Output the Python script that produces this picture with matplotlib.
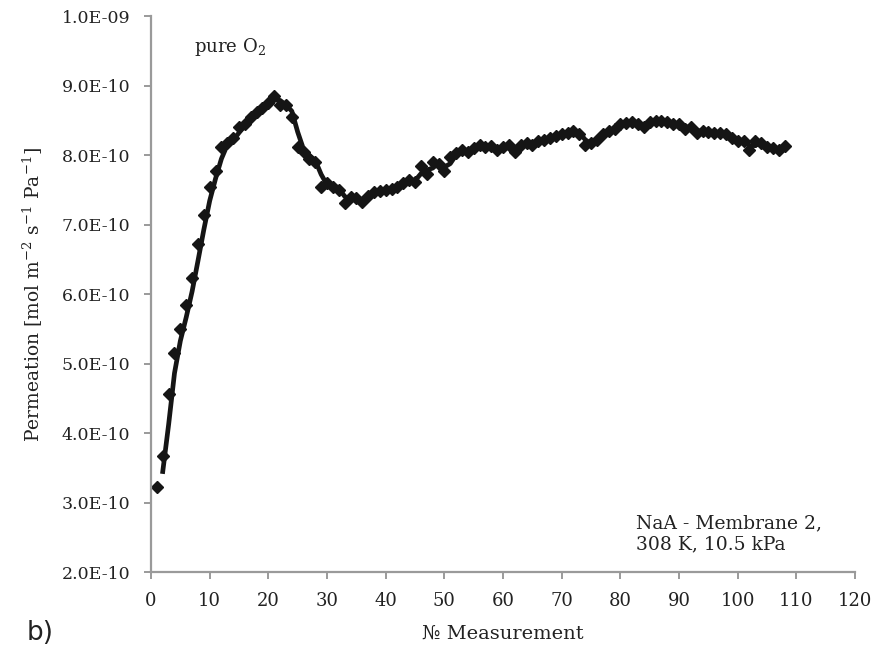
import numpy as np
import pandas as pd
import matplotlib
matplotlib.use("Agg")
import matplotlib.pyplot as plt

# permeation values, units of 1e-10 mol m-2 s-1 Pa-1, one per measurement
perm = [3.22, 3.68, 4.57, 5.16, 5.50, 5.84, 6.24, 6.72, 7.14, 7.55,
        7.78, 8.12, 8.18, 8.25, 8.40, 8.45, 8.55, 8.63, 8.68, 8.75,
        8.85, 8.73, 8.72, 8.55, 8.12, 8.05, 7.95, 7.90, 7.55, 7.60,
        7.55, 7.50, 7.32, 7.40, 7.38, 7.33, 7.42, 7.47, 7.48, 7.50,
        7.52, 7.55, 7.60, 7.65, 7.62, 7.85, 7.73, 7.90, 7.88, 7.78,
        7.98, 8.03, 8.08, 8.05, 8.10, 8.15, 8.12, 8.13, 8.08, 8.12,
        8.15, 8.05, 8.15, 8.18, 8.15, 8.20, 8.22, 8.25, 8.28, 8.30,
        8.32, 8.35, 8.30, 8.15, 8.18, 8.22, 8.30, 8.35, 8.38, 8.45,
        8.47, 8.48, 8.45, 8.40, 8.48, 8.50, 8.50, 8.48, 8.45, 8.45,
        8.38, 8.40, 8.32, 8.35, 8.33, 8.32, 8.32, 8.30, 8.25, 8.20,
        8.20, 8.08, 8.20, 8.17, 8.12, 8.10, 8.08, 8.13]
measurement = list(range(1, len(perm) + 1))

x_ticks = list(range(0, 121, 10))
y_ticks = [2e-10, 3e-10, 4e-10, 5e-10, 6e-10, 7e-10, 8e-10, 9e-10, 1e-9]
y_labels = ["2.0E-10", "3.0E-10", "4.0E-10", "5.0E-10", "6.0E-10",
            "7.0E-10", "8.0E-10", "9.0E-10", "1.0E-09"]

plt.rcParams['font.family'] = ['DejaVu Serif']
plt.rcParams['mathtext.fontset'] = 'dejavuserif'

df = pd.DataFrame({'x': measurement, 'p': np.array(perm) * 1e-10})
# 2-point moving average trendline
df['ma'] = df['p'].rolling(2).mean()

fig = plt.figure(figsize=(8.77, 6.68), dpi=100)
ax = fig.add_axes([0.1722, 0.1433, 0.8028, 0.8323])

ax.plot(df['x'], df['p'], linestyle='none', marker='D', markersize=6.6,
        color='#151515', zorder=2)
ax.plot(df['x'], df['ma'], color='#151515', linewidth=3.4, zorder=3)

ax.set_xlim(0, 120)
ax.set_ylim(2e-10, 1e-9)
ax.set_xticks(x_ticks)
ax.set_yticks(y_ticks)
ax.set_yticklabels(y_labels)

grey = '#9a9a9a'
for side in ['top', 'right']:
    ax.spines[side].set_visible(False)
for side in ['left', 'bottom']:
    ax.spines[side].set_color(grey)
    ax.spines[side].set_linewidth(1.6)
ax.tick_params(axis='both', direction='out', length=5, width=1.4,
               color=grey, labelsize=13, labelcolor='#222222')
ax.tick_params(axis='x', pad=9)
ax.tick_params(axis='y', labelsize=12.5, pad=10)

ax.set_xlabel("№ Measurement", fontsize=14, color='#222222', labelpad=11)
ax.set_ylabel("Permeation [mol m$^{-2}$ s$^{-1}$ Pa$^{-1}$]", fontsize=13.5,
              color='#222222', labelpad=12)

ax.text(7.3, 9.56e-10, "pure O$_2$", fontsize=13, color='#222222',
        va='center', ha='left')
ax.text(82.6, 2.55e-10, "NaA - Membrane 2,\n308 K, 10.5 kPa", fontsize=13.5,
        color='#222222', va='center', ha='left', linespacing=1.2)

fig.text(0.03, 0.052, "b)", fontsize=19, color='#222222',
         family=['DejaVu Sans'], va='center', ha='left')

fig.savefig("out.png", dpi=100)
